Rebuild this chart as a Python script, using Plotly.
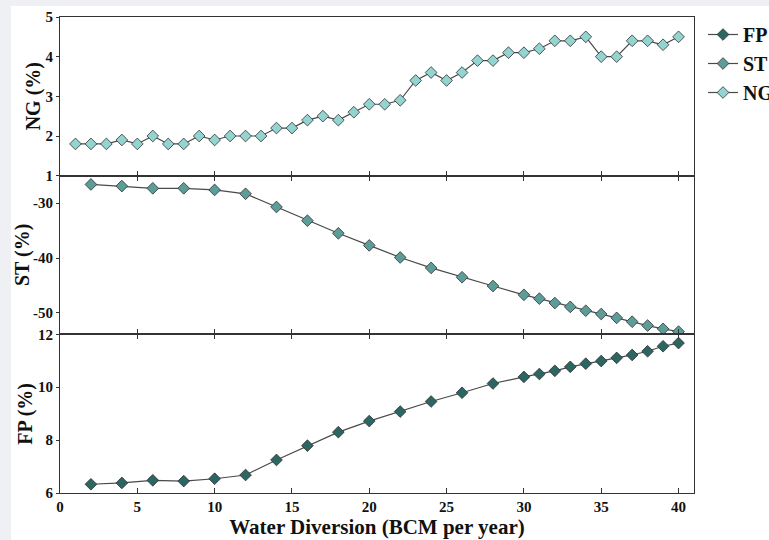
import plotly.graph_objects as go
from plotly.subplots import make_subplots

# ---- data ----
ng_x = list(range(1, 41))
ng_y = [1.8, 1.8, 1.8, 1.9, 1.8, 2.0, 1.8, 1.8, 2.0, 1.9,
        2.0, 2.0, 2.0, 2.2, 2.2, 2.4, 2.5, 2.4, 2.6, 2.8,
        2.8, 2.9, 3.4, 3.6, 3.4, 3.6, 3.9, 3.9, 4.1, 4.1,
        4.2, 4.4, 4.4, 4.5, 4.0, 4.0, 4.4, 4.4, 4.3, 4.5]

sf_x = [2, 4, 6, 8, 10, 12, 14, 16, 18, 20, 22, 24, 26, 28, 30,
        31, 32, 33, 34, 35, 36, 37, 38, 39, 40]
st_y = [-26.6, -26.9, -27.3, -27.3, -27.6, -28.3, -30.7, -33.2, -35.5, -37.7,
        -39.9, -41.8, -43.5, -45.1, -46.7, -47.4, -48.2, -48.9, -49.6, -50.2,
        -50.9, -51.6, -52.3, -52.9, -53.4]
fp_y = [6.33, 6.38, 6.48, 6.45, 6.54, 6.68, 7.25, 7.79, 8.30, 8.72,
        9.08, 9.46, 9.79, 10.14, 10.39, 10.50, 10.62, 10.77, 10.89, 10.99,
        11.11, 11.22, 11.36, 11.55, 11.67]

x_ticks = [0, 5, 10, 15, 20, 25, 30, 35, 40]
ng_ticks = [1, 2, 3, 4, 5]
st_ticks = [-30, -40, -50]
fp_ticks = [6, 8, 10, 12]

y_titles = ["NG (%)", "ST (%)", "FP (%)"]
x_title = "Water Diversion (BCM per year)"

# ---- styling ----
W, H = 769, 540
ML, MR, MT, MB = 60, 75, 17, 47
FONT = "Liberation Serif"
LINE_C = "#4a4a4a"
AX_C = "#333333"
colors = {"FP": "#2b6663", "ST": "#5d9d99", "NG": "#93d4d1"}

def bold_labels(vals):
    return ["<b>%s</b>" % str(v) for v in vals]

fig = make_subplots(rows=3, cols=1, shared_xaxes=True, vertical_spacing=0)

def add(name, x, y, row):
    fig.add_trace(go.Scatter(
        x=x, y=y, name="<b>%s</b>" % name, mode="lines+markers",
        line=dict(color=LINE_C, width=1.2),
        marker=dict(symbol="diamond", size=9, color=colors[name],
                    line=dict(color="#2e2e2e", width=0.8)),
    ), row=row, col=1)

add("FP", sf_x, fp_y, 3)
add("ST", sf_x, st_y, 2)
add("NG", ng_x, ng_y, 1)

tickfont = dict(family=FONT, size=15, color="#111")
titlefont = dict(family=FONT, size=20, color="#111")

for r in (1, 2, 3):
    fig.update_xaxes(
        row=r, col=1, range=[0, 41], tickvals=x_ticks,
        ticktext=bold_labels(x_ticks),
        ticks="inside", ticklen=5, tickcolor=AX_C, tickwidth=1,
        showline=True, linecolor=AX_C, linewidth=1.2,
        mirror=(True if r == 1 else "ticks"),
        showgrid=False, zeroline=False, tickfont=tickfont,
        showticklabels=(r == 3),
    )

fig.update_xaxes(row=3, col=1, title=dict(text="<b>%s</b>" % x_title,
                                          font=dict(family=FONT, size=21, color="#111"),
                                          standoff=2))

yc = dict(ticks="outside", ticklen=3, tickcolor=AX_C, tickwidth=1,
          showline=True, linecolor=AX_C, linewidth=1.2, mirror=True,
          showgrid=False, zeroline=False, tickfont=tickfont)
fig.update_yaxes(row=1, col=1, range=[1, 5], tickvals=ng_ticks,
                 ticktext=bold_labels(ng_ticks), **yc)
fig.update_yaxes(row=2, col=1, range=[-53.9, -25.0], tickvals=st_ticks,
                 ticktext=bold_labels(st_ticks), **yc)
fig.update_yaxes(row=3, col=1, range=[6, 12], tickvals=fp_ticks,
                 ticktext=bold_labels(fp_ticks), **yc)

pw = W - ML - MR
ph = H - MT - MB

# y-axis titles as rotated annotations (pixel x centres from reference)
title_x_px = [33, 22, 26]
for i, (t, xp) in enumerate(zip(y_titles, title_x_px)):
    fig.add_annotation(text="<b>%s</b>" % t, textangle=-90,
                       xref="paper", yref="paper",
                       x=(xp - ML) / pw, y=1 - (i + 0.5) / 3,
                       xanchor="center", yanchor="middle", showarrow=False,
                       font=titlefont)

fig.add_shape(type="rect", xref="paper", yref="paper", layer="below",
              x0=(11 - ML) / pw, x1=(W + 5 - ML) / pw,
              y0=-(MB + 5) / ph, y1=(H - 6 - MB) / ph,
              fillcolor="white", line=dict(width=0))

fig.update_layout(
    width=W, height=H,
    margin=dict(l=ML, r=MR, t=MT, b=MB, autoexpand=False),
    paper_bgcolor="#eef0f4", plot_bgcolor="white",
    showlegend=True,
    legend=dict(x=(703 - ML) / pw, y=(H - 15 - MB) / ph,
                xanchor="left", yanchor="top",
                font=dict(family=FONT, size=20, color="#111"),
                bgcolor="rgba(0,0,0,0)", tracegroupgap=0,
                itemwidth=30),
)

fig.write_html("out.html", config={"displayModeBar": False},
               post_script="document.body.style.margin='0';"
                           "document.body.style.background='#eef0f4';")
